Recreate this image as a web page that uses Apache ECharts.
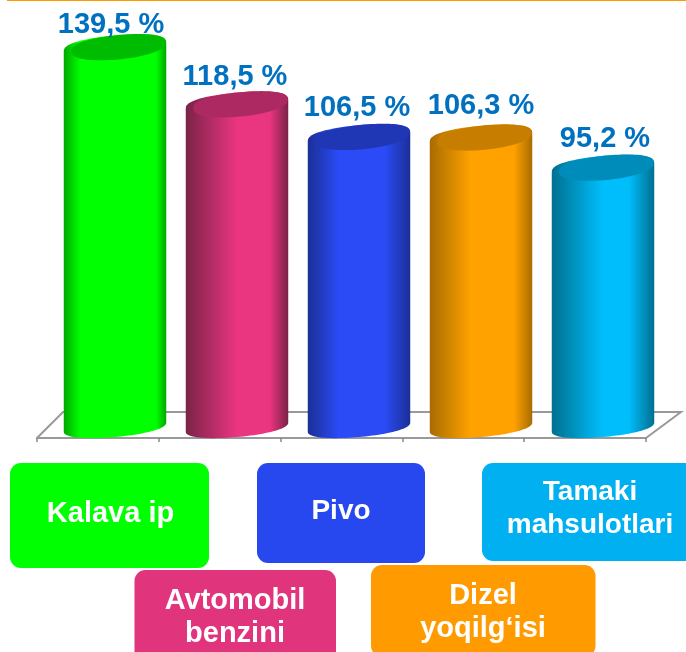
<!DOCTYPE html>
<html>
<head>
<meta charset="utf-8">
<style>html,body{margin:0;padding:0;background:#fff;overflow:hidden}#c{width:686px;height:652px}</style>
<script src="https://cdn.jsdelivr.net/npm/echarts@6/dist/echarts.min.js"></script>
</head>
<body>
<div id="c"></div>
<script>
var categories = ['Kalava ip', 'Avtomobil\nbenzini', 'Pivo', 'Dizel\nyoqilg\u2018isi', 'Tamaki\nmahsulotlari'];
var values = [139.5, 118.5, 106.5, 106.3, 95.2];
var faceColors = ['#00FF00', '#EA3580', '#2A4BF5', '#FFA200', '#00BEFC'];
var edgeColors = ['#00A800', '#7A2347', '#1B2F96', '#A86C00', '#00708F'];
var capColors = ['#00BC00', '#AC2A61', '#1F37B4', '#C77E00', '#008CBA'];
var boxColors = ['#00FF00', '#E0357C', '#2748EE', '#FF9A00', '#00B0F0'];
var brightFrom = [0.16, 0.5, 0.3, 0.4, 0.5];
var brightTo = [0.9, 0.82, 0.75, 0.82, 0.75];
var labelRaise = [23, 28, 29, 32, 29];
var labelShift = [-4, -2, -2, 0, 2];

var FONT = '"Liberation Sans", Arial, sans-serif';

function ringPoint(cx, cy, hx, hy, tilt, t, power) {
  var s = Math.sin(t);
  var m = Math.sqrt(hy * hy - tilt * tilt) * (s < 0 ? -1 : 1) * Math.pow(Math.abs(s), power);
  return [cx + hx * Math.cos(t), cy - tilt * Math.cos(t) + m];
}
function renderCylinder(params, api) {
  var i = api.value(0);
  var top = api.coord([i, api.value(1)]);
  var base = api.coord([i, 0]);
  var hx = api.size([1, 0])[0] * 0.42;
  var n = 48, k, body = [], cap = [];
  for (k = 0; k <= n; k++) body.push(ringPoint(base[0], base[1], hx, 11, 4.5, Math.PI * k / n, 0.85));
  for (k = 0; k <= n; k++) body.push(ringPoint(top[0], top[1], hx, 13, 4.5, Math.PI + Math.PI * k / n, 0.72));
  for (k = 0; k < 2 * n; k++) cap.push(ringPoint(top[0] + 3.5, top[1] - 0.3, hx - 4, 13, 4.5, Math.PI * k / n, k > n ? 0.72 : 0.9));
  var grad = new echarts.graphic.LinearGradient(0, 0, 1, 0, [
    { offset: 0, color: edgeColors[i] },
    { offset: brightFrom[i], color: faceColors[i] },
    { offset: brightTo[i], color: faceColors[i] },
    { offset: 1, color: edgeColors[i] }
  ]);
  var text = api.value(1).toFixed(1).replace('.', ',') + ' %';
  return {
    type: 'group',
    children: [
      { type: 'polygon', shape: { points: body }, style: { fill: grad } },
      { type: 'polygon', shape: { points: cap }, style: { fill: capColors[i] } },
      { type: 'text', style: {
          x: top[0] + labelShift[i], y: top[1] - labelRaise[i], text: text,
          fill: '#0070C0',
          font: 'bold 29px ' + FONT, align: 'center', verticalAlign: 'middle'
      } }
    ]
  };
}

function box(i, x, y, w, h, cx, cy, size) {
  return { type: 'group', children: [
    { type: 'rect', shape: { x: x, y: y, width: w, height: h, r: 11 }, style: { fill: boxColors[i] } },
    { type: 'text', style: { x: cx, y: cy, text: categories[i], fill: '#fff',
        font: 'bold ' + size + 'px ' + FONT, align: 'center', verticalAlign: 'middle', lineHeight: 33 } }
  ] };
}

var chart = echarts.init(document.getElementById('c'), null, { renderer: 'canvas' });
chart.setOption({
  animation: false,
  backgroundColor: '#fff',
  grid: [
    { left: 54, top: 19, width: 610, height: 408 },
    { left: 37, top: 18, width: 609, height: 420 }
  ],
  xAxis: [
    { gridIndex: 0, type: 'category', data: categories, show: false },
    { gridIndex: 1, type: 'category', data: categories,
      axisLine: { lineStyle: { color: '#999', width: 2 } },
      axisTick: { show: true, length: 4, alignWithLabel: false, lineStyle: { color: '#888', width: 1.5 } },
      axisLabel: { show: false } }
  ],
  yAxis: [
    { gridIndex: 0, type: 'value', min: 0, max: 150, show: false },
    { gridIndex: 1, type: 'value', min: 0, max: 150, show: false }
  ],
  series: [{
    type: 'custom', xAxisIndex: 0, yAxisIndex: 0, z: 5,
    renderItem: renderCylinder,
    data: values.map(function (v, i) { return [i, v]; })
  }],
  graphic: [
    { type: 'rect', shape: { x: 7, y: 0, width: 679, height: 1 }, style: { fill: '#FF9900' }, silent: true },
    { type: 'polyline', shape: { points: [[37, 438], [63, 412], [681, 412], [646, 438]] },
      style: { stroke: '#999', lineWidth: 2, fill: null }, silent: true },
    box(0, 10, 463, 199, 105, 110.5, 514, 29),
    box(2, 257, 463, 168, 100, 341, 511, 28),
    box(4, 482, 463, 216, 98, 590, 509, 28),
    box(1, 134.5, 570, 201.5, 92, 235, 617, 29),
    box(3, 371, 565, 224.5, 92, 483, 612, 29)
  ]
});
</script>
</body>
</html>
